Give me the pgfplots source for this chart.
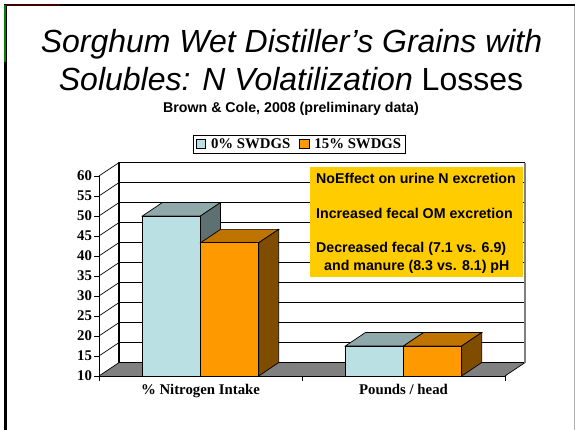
\documentclass[border=0pt]{standalone}
\usepackage{pgfplots}
\pgfplotsset{compat=1.18}
\usepackage{fontspec}
\setmainfont{Liberation Serif}
\newfontfamily\arial{Liberation Sans}

\definecolor{lightb}{RGB}{187,224,227}
\definecolor{topb}{RGB}{143,168,170}
\definecolor{sideb}{RGB}{95,112,114}
\definecolor{orangef}{RGB}{255,153,0}
\definecolor{topo}{RGB}{191,115,0}
\definecolor{sideo}{RGB}{128,77,0}
\definecolor{floorg}{RGB}{128,128,128}
\definecolor{boxy}{RGB}{255,204,0}

\begin{document}
\begin{tikzpicture}
\path[use as bounding box] (0pt,0pt) rectangle (575pt,430pt);
\begin{axis}[
    at={(99pt,54pt)}, anchor=south west,
    scale only axis, width=406pt, height=200pt,
    xmin=0, xmax=2, ymin=10, ymax=60,
    clip=false,
    axis x line*=bottom, axis y line*=left,
    axis line style={-, black, line width=0.8pt},
    xtick={0,1,2}, xticklabels={},
    extra x ticks={0.5,1.5},
    extra x tick labels={\% Nitrogen Intake, Pounds / head},
    extra x tick style={major tick length=0pt, tick label style={yshift=-5pt}},
    ytick={10,15,...,60},
    tick align=outside, major tick length=5pt,
    tick style={black, line width=0.7pt},
    tick label style={font=\bfseries\fontsize{14.8}{16}\selectfont},
    yticklabel style={xshift=1.5pt},
    /pgf/number format/assume math mode=true,
    legend style={at={(0.494,1.1575)}, anchor=center, draw=black, line width=0.8pt,
        font=\bfseries\fontsize{14.8}{16}\selectfont, inner xsep=2.5pt, inner ysep=1pt,
        /tikz/every even column/.append style={column sep=7pt},
        /tikz/every odd column/.append style={column sep=3pt}},
    legend columns=2,
    legend image code/.code={\draw[#1, line width=0.6pt] (0pt,-4pt) rectangle (9.5pt,5.5pt);},
]
% back wall and floor
\addplot[forget plot, draw=none, fill=floorg] coordinates {(0,10) (2,10) (2.0985,13.35) (0.0985,13.35)} -- cycle;
\addplot[forget plot, black, line width=0.7pt] coordinates {(0,10) (0.0985,13.35) (2.0985,13.35)};
\addplot[forget plot, black, line width=0.7pt] coordinates {(2,10) (2.0985,13.35)};
% gridlines: left wall then back wall
\addplot[forget plot, black, line width=0.7pt, unbounded coords=jump] coordinates {
  (0,15) (0.0985,18.35) (2.0985,18.35) (0,nan)
  (0,20) (0.0985,23.35) (2.0985,23.35) (0,nan)
  (0,25) (0.0985,28.35) (2.0985,28.35) (0,nan)
  (0,30) (0.0985,33.35) (2.0985,33.35) (0,nan)
  (0,35) (0.0985,38.35) (2.0985,38.35) (0,nan)
  (0,40) (0.0985,43.35) (2.0985,43.35) (0,nan)
  (0,45) (0.0985,48.35) (2.0985,48.35) (0,nan)
  (0,50) (0.0985,53.35) (2.0985,53.35) (0,nan)
  (0,55) (0.0985,58.35) (2.0985,58.35) (0,nan)
  (0,60) (0.0985,63.35)
};
\addplot[forget plot, floorg, line width=1.8pt] coordinates {(2.0985,13.35) (2.0985,63.35)};
\addplot[forget plot, black, line width=1.5pt] coordinates {(0.0985,13.35) (0.0985,63.35) (2.0985,63.35)};
% first group
\addplot[forget plot, fill=topb, draw=black, line width=0.7pt] coordinates {(0.2135,50) (0.5,50) (0.5985,53.35) (0.312,53.35)} -- cycle;
\addplot[forget plot, fill=sideb, draw=black, line width=0.7pt] coordinates {(0.5,10) (0.5,50) (0.5985,53.35) (0.5985,13.35)} -- cycle;
\addplot[ybar, bar width=58.2pt, bar shift=-29.1pt, fill=lightb, draw=black, line width=0.7pt] coordinates {(0.5,50) (1.5,17.5)};
\addlegendentry{0\% SWDGS}
\addplot[forget plot, fill=topo, draw=black, line width=0.7pt] coordinates {(0.5,43.3) (0.7865,43.3) (0.885,46.65) (0.5985,46.65)} -- cycle;
\addplot[forget plot, fill=sideo, draw=black, line width=0.7pt] coordinates {(0.7865,10) (0.7865,43.3) (0.885,46.65) (0.885,13.35)} -- cycle;
% second group
\addplot[forget plot, fill=topb, draw=black, line width=0.7pt] coordinates {(1.2135,17.5) (1.5,17.5) (1.5985,20.85) (1.312,20.85)} -- cycle;
\addplot[forget plot, fill=topo, draw=black, line width=0.7pt] coordinates {(1.5,17.5) (1.7865,17.5) (1.885,20.85) (1.5985,20.85)} -- cycle;
\addplot[forget plot, fill=sideo, draw=black, line width=0.7pt] coordinates {(1.7865,10) (1.7865,17.5) (1.885,20.85) (1.885,13.35)} -- cycle;
\addplot[ybar, bar width=58.2pt, bar shift=29.1pt, fill=orangef, draw=black, line width=0.7pt] coordinates {(0.5,43.3) (1.5,17.5)};
\addlegendentry{15\% SWDGS}
\end{axis}
\begin{scope}[x=1pt,y=-1pt,shift={(0pt,430pt)}]
  % slide frame
  \fill[black] (5,4) rectangle (575,6.5);
  \fill[black] (4,4) rectangle (6.5,430);
  \fill[green!50!black] (4,5) rectangle (6,62);
  \fill[black!75!red] (6,4) rectangle (60,6);
  \fill[black!30] (573.5,6) rectangle (575,430);
  % titles
  \node[anchor=base, inner sep=0pt, font=\arial\fontsize{32}{34}\selectfont\itshape] at (291.5,53) {Sorghum Wet Distiller’s Grains with};
  \node[anchor=base, inner sep=0pt, font=\arial\fontsize{32}{34}\selectfont] at (291,91) {\textit{Solubles: N Volatilization} Losses};
  \node[anchor=base, inner sep=0pt, font=\arial\bfseries\fontsize{14.2}{16}\selectfont] at (291,113) {Brown \& Cole, 2008 (preliminary data)};
  % note box
  \fill[boxy] (310,167) rectangle (522.7,276.7);
  \begin{scope}[every node/.style={anchor=base west, inner sep=0pt, font=\arial\bfseries\fontsize{14.2}{16}\selectfont}]
    \node at (316,184) {NoEffect on urine N excretion};
    \node at (316,219) {Increased fecal OM excretion};
    \node at (316,253) {Decreased fecal (7.1 vs. 6.9)};
    \node at (324,271) {and manure (8.3 vs. 8.1) pH};
  \end{scope}
\end{scope}
\end{tikzpicture}
\end{document}
